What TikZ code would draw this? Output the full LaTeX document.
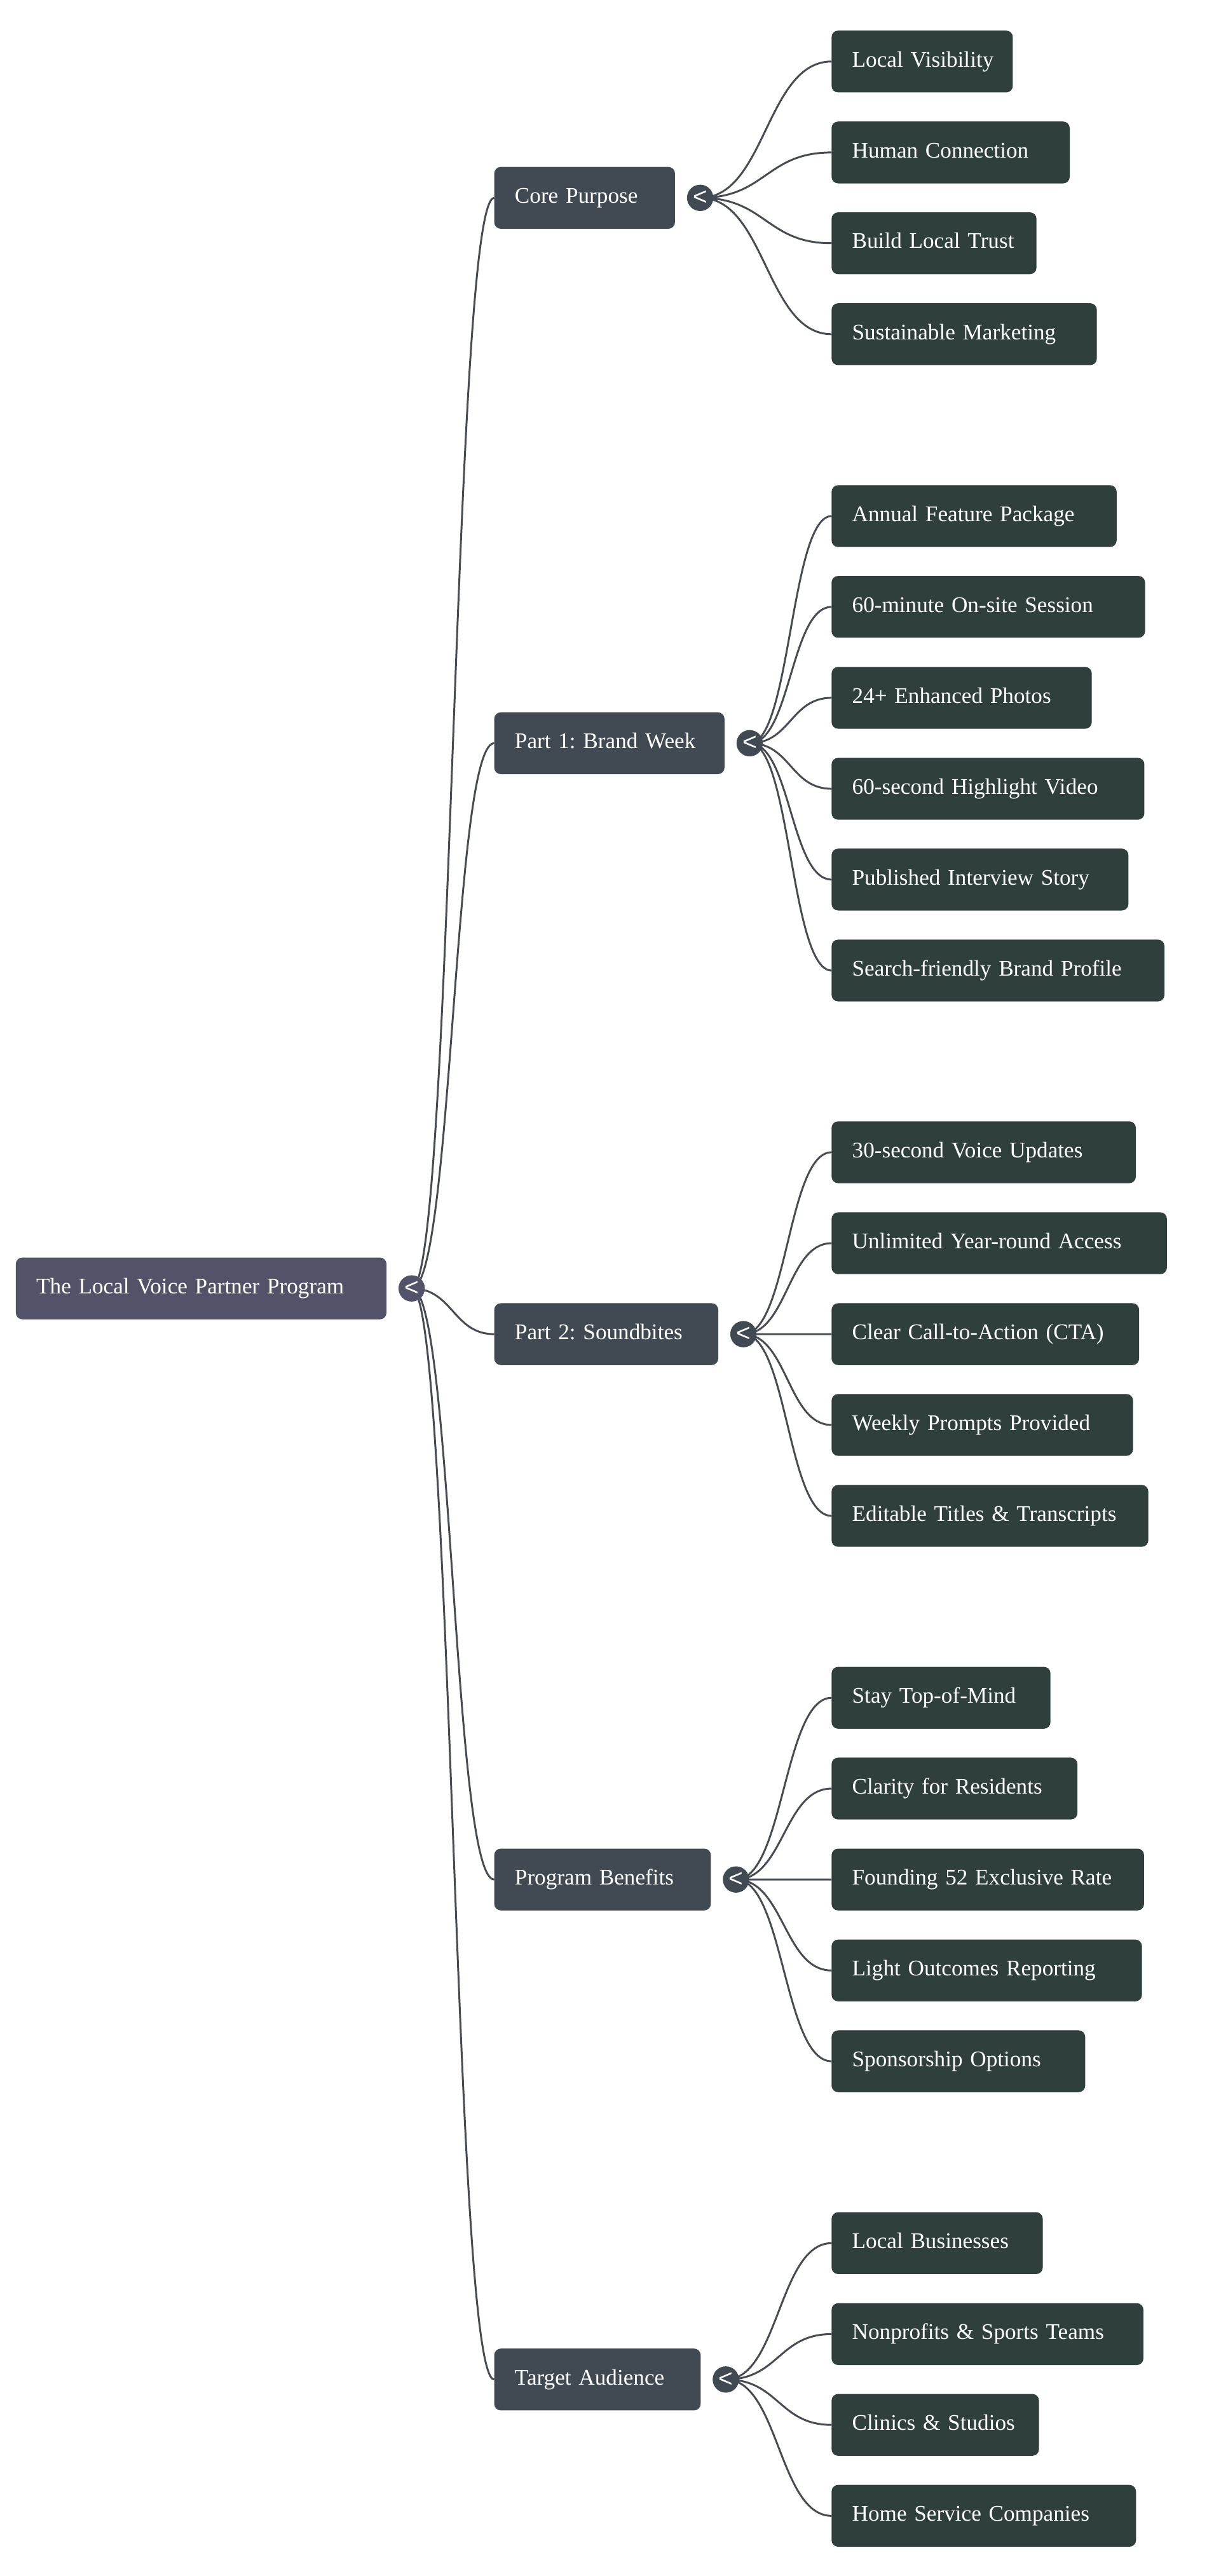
\documentclass[tikz,border=0pt]{standalone}
\usepackage{fontspec}
\setmainfont{Liberation Serif}
\setsansfont{Liberation Sans}
\frenchspacing
\usetikzlibrary{positioning,calc,backgrounds}
\definecolor{rootc}{HTML}{525369}
\definecolor{topicc}{HTML}{414A53}
\definecolor{leafc}{HTML}{2F403C}
\definecolor{linkc}{HTML}{484B54}
\tikzset{%
	box/.style    = {rectangle, rounded corners=4pt, anchor=west, inner xsep=0pt,
		inner ysep=0pt, outer sep=0pt, minimum height=37.6pt, text height=9.5pt,
		text depth=3.1pt, align=left, text=white, font=\fontsize{13.6}{16}\selectfont,
		execute at begin node={\hspace*{12.5pt}}},
	root/.style   = {box, fill=rootc, text width=#1}, % Program
	topic/.style  = {box, fill=topicc, text width=#1}, % Part
	leaf/.style   = {box, fill=leafc, text width=#1}, % Item
	toggle/.style = {circle, minimum size=16pt, inner sep=0pt, outer sep=0pt,
		text=white, font=\sffamily\fontsize{15}{15}\selectfont, right=7.3pt of #1},
	link/.style   = {draw=linkc, line width=1.15pt, to path={let \p1=(\tikztostart),
		\p2=(\tikztotarget) in .. controls ({(\x1+\x2)/2},\y1) and ({(\x1+\x2)/2},\y2) .. (\tikztotarget)}}
}
\begin{document}
\begin{tikzpicture}[x=1pt,y=-1pt]
			\useasboundingbox (0,0) rectangle (742,1566.3);
			\node[root=225.4pt] (lvp) at (9.6,783.4) {The Local Voice Partner Program};
			\node[toggle=lvp, fill=rootc] (lvpT) {<};

			\node[topic=109.9pt] (purpose) at (300.5,120.3) {Core Purpose};
			\node[topic=140pt] (brand) at (300.5,451.9) {Part 1: Brand Week};
			\node[topic=136.2pt] (sound) at (300.5,811.2) {Part 2: Soundbites};
			\node[topic=131.7pt] (benefit) at (300.5,1142.8) {Program Benefits};
			\node[topic=125.5pt] (audience) at (300.5,1446.8) {Target Audience};
			\node[toggle=purpose, fill=topicc] (purposeT) {<};
			\node[toggle=brand, fill=topicc] (brandT) {<};
			\node[toggle=sound, fill=topicc] (soundT) {<};
			\node[toggle=benefit, fill=topicc] (benefitT) {<};
			\node[toggle=audience, fill=topicc] (audienceT) {<};

			\node[leaf=110.2pt] (visib) at (505.6,37.4) {Local Visibility};
			\node[leaf=144.8pt] (human) at (505.6,92.7) {Human Connection};
			\node[leaf=124.6pt] (trust) at (505.6,147.9) {Build Local Trust};
			\node[leaf=161.3pt] (sustain) at (505.6,203.2) {Sustainable Marketing};

			\node[leaf=173.3pt] (feature) at (505.6,313.8) {Annual Feature Package};
			\node[leaf=190.6pt] (session) at (505.6,369.0) {60-minute On-site Session};
			\node[leaf=158.2pt] (photos) at (505.6,424.3) {24+ Enhanced Photos};
			\node[leaf=190.2pt] (video) at (505.6,479.6) {60-second Highlight Video};
			\node[leaf=180.5pt] (story) at (505.6,534.8) {Published Interview Story};
			\node[leaf=202.4pt] (profile) at (505.6,590.1) {Search-friendly Brand Profile};

			\node[leaf=185pt] (voice) at (505.6,700.6) {30-second Voice Updates};
			\node[leaf=203.9pt] (access) at (505.6,755.9) {Unlimited Year-round Access};
			\node[leaf=187pt] (cta) at (505.6,811.2) {Clear Call-to-Action (CTA)};
			\node[leaf=183.3pt] (prompts) at (505.6,866.4) {Weekly Prompts Provided};
			\node[leaf=192.6pt] (titles) at (505.6,921.7) {Editable Titles \& Transcripts};

			\node[leaf=133.1pt] (mind) at (505.6,1032.3) {Stay Top-of-Mind};
			\node[leaf=149.5pt] (clarity) at (505.6,1087.5) {Clarity for Residents};
			\node[leaf=190pt] (rate) at (505.6,1142.8) {Founding 52 Exclusive Rate};
			\node[leaf=188.7pt] (report) at (505.6,1198.1) {Light Outcomes Reporting};
			\node[leaf=154.2pt] (sponsor) at (505.6,1253.3) {Sponsorship Options};

			\node[leaf=128.4pt] (business) at (505.6,1363.9) {Local Businesses};
			\node[leaf=189.6pt] (nonprofit) at (505.6,1419.2) {Nonprofits \& Sports Teams};
			\node[leaf=126.1pt] (clinic) at (505.6,1474.4) {Clinics \& Studios};
			\node[leaf=185.1pt] (homeserv) at (505.6,1529.7) {Home Service Companies};

			\begin{scope}[on background layer]
			\fill[white] (0,0) rectangle (742,1566.3);
			\draw[link] (lvpT.center) to (purpose.west) (lvpT.center) to (brand.west)
				(lvpT.center) to (sound.west) (lvpT.center) to (benefit.west)
				(lvpT.center) to (audience.west);
			\draw[link] (purposeT.center) to (visib.west) (purposeT.center) to (human.west)
				(purposeT.center) to (trust.west) (purposeT.center) to (sustain.west);
			\draw[link] (brandT.center) to (feature.west) (brandT.center) to (session.west)
				(brandT.center) to (photos.west) (brandT.center) to (video.west)
				(brandT.center) to (story.west) (brandT.center) to (profile.west);
			\draw[link] (soundT.center) to (voice.west) (soundT.center) to (access.west)
				(soundT.center) to (cta.west) (soundT.center) to (prompts.west)
				(soundT.center) to (titles.west);
			\draw[link] (benefitT.center) to (mind.west) (benefitT.center) to (clarity.west)
				(benefitT.center) to (rate.west) (benefitT.center) to (report.west)
				(benefitT.center) to (sponsor.west);
			\draw[link] (audienceT.center) to (business.west) (audienceT.center) to (nonprofit.west)
				(audienceT.center) to (clinic.west) (audienceT.center) to (homeserv.west);
			\end{scope}
		\end{tikzpicture}
\end{document}
